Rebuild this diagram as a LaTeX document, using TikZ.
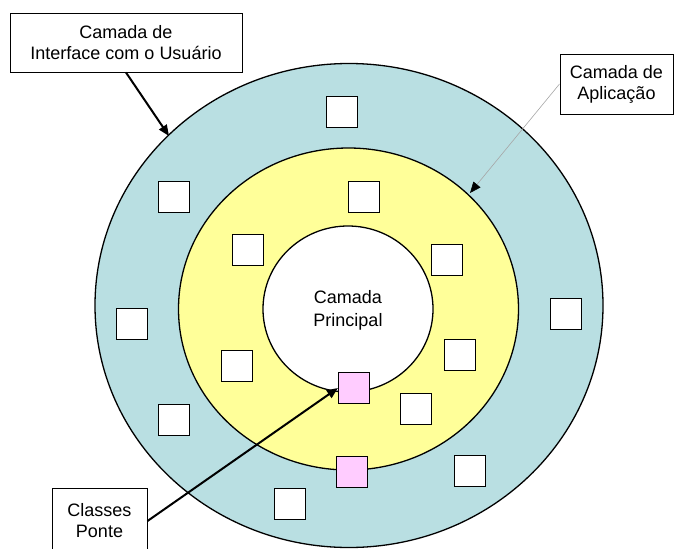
\documentclass[tikz,border=0pt]{standalone}
\usepackage{fontspec}
\setmainfont{Liberation Sans}
\usetikzlibrary{arrows.meta}
\definecolor{uiblue}{RGB}{185,223,226}
\definecolor{appyellow}{RGB}{255,255,153}
\definecolor{bridgepink}{RGB}{255,204,255}
\begin{document}
\begin{tikzpicture}[x=1pt,y=-1pt,
  ring/.style={draw=black,line width=1.3pt},
  cls/.style={draw=black,line width=1.2pt,fill=white,minimum size=31pt,inner sep=0pt},
  bridge/.style={cls,fill=bridgepink},
  label/.style={draw=black,line width=1pt,fill=white,align=center,
    font=\fontsize{18}{21}\selectfont,inner sep=0pt},
  bigarrow/.style={line width=2pt,-{Triangle[length=11pt,width=9pt]}},
  thinarrow/.style={draw=black!35,line width=0.6pt,-{Triangle[black,length=11pt,width=9pt]}}]
\useasboundingbox (0,0) rectangle (675,549);

% concentric layers
\fill[uiblue] (349,305.5) ellipse [x radius=254pt,y radius=242pt];
\draw[ring] (349,305.5) ellipse [x radius=254pt,y radius=242pt];
\fill[appyellow] (348.5,309) ellipse [x radius=170pt,y radius=161pt];
\draw[ring] (348.5,309) ellipse [x radius=170pt,y radius=161pt];
\fill[white] (348,309) ellipse [x radius=85pt,y radius=83pt];
\draw[ring] (348,309) ellipse [x radius=85pt,y radius=83pt];
\node[align=center,font=\fontsize{18}{23}\selectfont] (core) at (348,310) {Camada\\Principal};

% classes
\node[cls] (c1) at (342,112) {};
\node[cls] (c2) at (174,197) {};
\node[cls] (c3) at (364,197) {};
\node[cls] (c4) at (248,250) {};
\node[cls] (c5) at (447,260) {};
\node[cls] (c6) at (132,324) {};
\node[cls] (c7) at (566,314) {};
\node[cls] (c8) at (237,366) {};
\node[cls] (c9) at (460,355) {};
\node[cls] (c10) at (416,409) {};
\node[cls] (c11) at (174,420) {};
\node[cls] (c12) at (470,471) {};
\node[cls] (c13) at (290,504) {};
\node[bridge] (b1) at (354,388) {};
\node[bridge] (b2) at (352,472) {};

% captions
\node[label,minimum width=232pt,minimum height=59pt] (ui) at (126,42.5)
  {Camada de\\Interface com o Usuário};
\node[label,minimum width=113pt,minimum height=60pt] (app) at (616.5,84)
  {Camada de\\Aplicação};
\node[label,minimum width=95pt,minimum height=66pt] (cp) at (99.5,521)
  {Classes\\Ponte};

% pointers
\coordinate (uiTip) at (169,136);
\coordinate (appTip) at (470,193);
\draw[bigarrow] (ui.south) -- (uiTip);
\draw[thinarrow] (app.west) -- (appTip);
\draw[bigarrow] (cp.east) -- (b1.west);
\end{tikzpicture}
\end{document}
